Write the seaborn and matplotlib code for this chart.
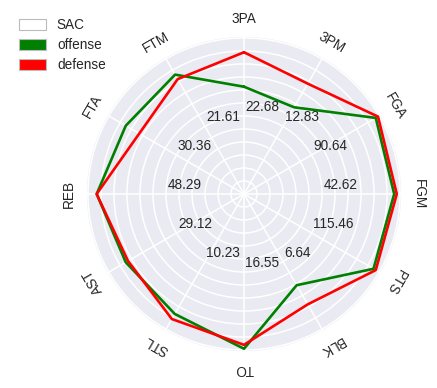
import numpy as np
import seaborn as sns
import matplotlib.pyplot as plt
from matplotlib.patches import Patch

sns.set_theme(style="darkgrid")
plt.rcParams['font.family'] = ['Liberation Sans', 'DejaVu Sans']

# stats, clockwise from the top
stats = ["3PA", "3PM", "FGA", "FGM", "PTS", "BLK", "TO", "STL", "AST", "REB", "FTA", "FTM"]
# value printed on the middle ring of each axis
mid_labels = ["22.68", "12.83", "90.64", "42.62", "115.46", "6.64",
              "16.55", "10.23", "29.12", "48.29", "30.36", "21.61"]
# radial position of each team line (ring units, 12 rings)
offense = [8.25, 7.7, 11.7, 11.55, 11.5, 8.1, 11.9, 10.65, 10.5, 11.33, 10.5, 10.6]
defense = [10.9, 9.8, 11.9, 11.75, 11.7, 9.8, 11.6, 11.1, 10.3, 11.33, 9.3, 10.2]
team = "SAC"

fs = 9.8
n = len(stats)
angles = np.linspace(0, 2 * np.pi, n, endpoint=False)

fig = plt.figure(figsize=(4.37, 3.88), dpi=100)
ax = fig.add_axes([86 / 437, 36 / 388, 316 / 437, 316 / 388], polar=True)
ax.set_theta_offset(np.pi / 2)
ax.set_theta_direction(-1)

ax.set_ylim(0, 12.15)
ax.set_yticks(np.arange(1, 13))
ax.set_yticklabels([])
ax.set_xticks(angles)
ax.set_xticklabels([])
ax.grid(color="white", linewidth=1.1)
ax.spines["polar"].set_color("white")

ang_c = np.append(angles, angles[0])
ax.plot(ang_c, offense + offense[:1], color="green", lw=1.9)
ax.plot(ang_c, defense + defense[:1], color="red", lw=1.9)

# category names, rotated along the circle
for a, s in zip(angles, stats):
    ax.text(a, 13.45, s, rotation=-np.degrees(a), ha="center", va="center",
            fontsize=fs, color="0.15", clip_on=False)

# scale value on middle ring
for a, lab in zip(angles, mid_labels):
    ax.annotate(lab, xy=(a, 6), xytext=(1.5, 2), textcoords="offset pixels",
                ha="left", va="bottom", fontsize=fs, color="0.15")

handles = [Patch(facecolor="white", edgecolor="#bbbbbb", lw=0.8),
           Patch(facecolor="green", edgecolor="#bbbbbb", lw=0.8),
           Patch(facecolor="red", edgecolor="#bbbbbb", lw=0.8)]
fig.legend(handles, [team, "offense", "defense"], loc="upper left",
           bbox_to_anchor=(0.015, 0.985), frameon=False, fontsize=fs,
           labelspacing=0.45, handleheight=0.8)

fig.savefig("out.png", dpi=100)
